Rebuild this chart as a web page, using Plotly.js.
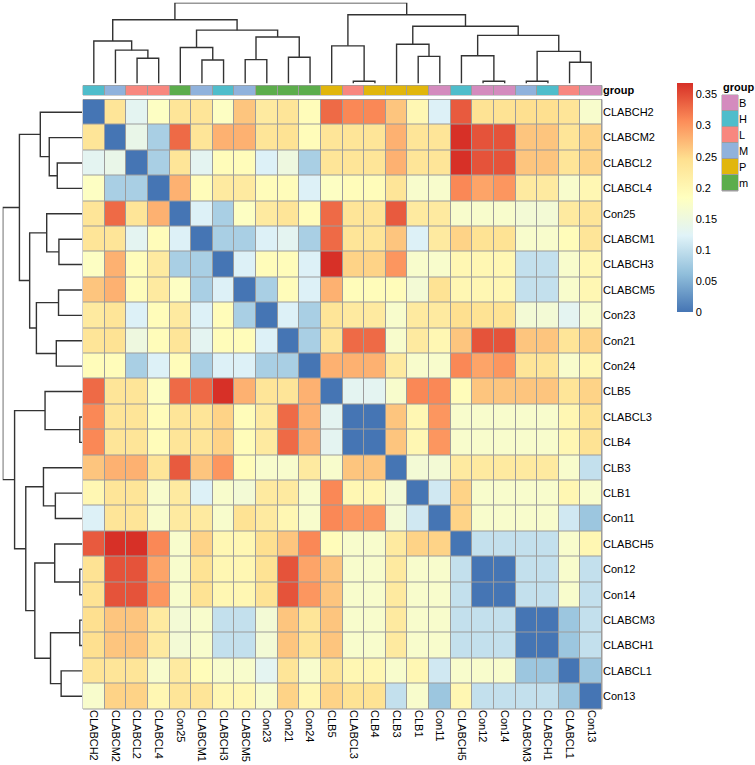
<!DOCTYPE html>
<html>
<head>
<meta charset="utf-8">
<script src="https://cdn.plot.ly/plotly-3.0.1.min.js"></script>
<style>
  html, body { margin: 0; padding: 0; background: #fff; }
  #chart { width: 755px; height: 765px; }
</style>
</head>
<body>
<div id="chart"></div>
<script>
// samples, in clustered order (rows and columns are the same)
const labels = ["CLABCH2", "CLABCM2", "CLABCL2", "CLABCL4", "Con25", "CLABCM1", "CLABCH3", "CLABCM5",
  "Con23", "Con21", "Con24", "CLB5", "CLABCL3", "CLB4", "CLB3", "CLB1", "Con11", "CLABCH5",
  "Con12", "Con14", "CLABCM3", "CLABCH1", "CLABCL1", "Con13"];

// group annotation per sample
const groups = ["H", "M", "L", "L", "m", "M", "H", "M", "m", "m", "m", "P", "L", "P", "P", "P",
  "B", "H", "B", "B", "M", "H", "L", "B"];
const groupNames = ["B", "H", "L", "M", "P", "m"];
const groupColors = ["#D48BBE", "#4FBDCB", "#F8877F", "#90B2DC", "#E1B60C", "#5CAD4C"];

// distance matrix, lower triangle (row i, columns 0..i-1), diagonal is 0
const lowerTri = [
  [],
  [0.235],
  [0.13, 0.14],
  [0.18, 0.08, 0.08],
  [0.235, 0.33, 0.235, 0.28],
  [0.235, 0.235, 0.13, 0.19, 0.12],
  [0.18, 0.28, 0.19, 0.225, 0.08, 0.08],
  [0.265, 0.28, 0.19, 0.225, 0.18, 0.08, 0.12],
  [0.225, 0.235, 0.12, 0.19, 0.225, 0.12, 0.19, 0.08],
  [0.235, 0.24, 0.15, 0.19, 0.235, 0.13, 0.19, 0.19, 0.12],
  [0.19, 0.19, 0.08, 0.12, 0.19, 0.08, 0.12, 0.12, 0.08, 0.08],
  [0.33, 0.235, 0.235, 0.18, 0.33, 0.33, 0.368, 0.28, 0.235, 0.235, 0.28],
  [0.31, 0.235, 0.235, 0.19, 0.235, 0.235, 0.255, 0.19, 0.225, 0.33, 0.28, 0.13],
  [0.31, 0.235, 0.235, 0.19, 0.235, 0.235, 0.255, 0.19, 0.225, 0.33, 0.28, 0.13, 0],
  [0.265, 0.28, 0.28, 0.235, 0.34, 0.265, 0.30, 0.19, 0.17, 0.17, 0.225, 0.17, 0.265, 0.265],
  [0.20, 0.235, 0.235, 0.17, 0.225, 0.12, 0.17, 0.16, 0.225, 0.225, 0.17, 0.31, 0.20, 0.20, 0.16],
  [0.12, 0.235, 0.235, 0.17, 0.225, 0.225, 0.17, 0.24, 0.225, 0.20, 0.17, 0.31, 0.30, 0.30, 0.16, 0.11],
  [0.34, 0.368, 0.368, 0.31, 0.17, 0.255, 0.20, 0.20, 0.245, 0.265, 0.31, 0.19, 0.17, 0.17, 0.225, 0.255, 0.255],
  [0.24, 0.345, 0.345, 0.29, 0.17, 0.24, 0.20, 0.20, 0.24, 0.345, 0.29, 0.265, 0.17, 0.17, 0.225, 0.17, 0.17, 0.10],
  [0.24, 0.345, 0.345, 0.30, 0.17, 0.24, 0.20, 0.20, 0.24, 0.345, 0.30, 0.265, 0.17, 0.17, 0.225, 0.17, 0.17, 0.10, 0],
  [0.245, 0.265, 0.265, 0.225, 0.16, 0.17, 0.10, 0.10, 0.16, 0.265, 0.235, 0.265, 0.17, 0.17, 0.225, 0.17, 0.17, 0.10, 0.10, 0.10],
  [0.245, 0.265, 0.265, 0.225, 0.16, 0.17, 0.10, 0.10, 0.16, 0.265, 0.235, 0.265, 0.17, 0.17, 0.225, 0.17, 0.17, 0.10, 0.10, 0.10, 0],
  [0.235, 0.235, 0.235, 0.17, 0.225, 0.19, 0.17, 0.17, 0.13, 0.235, 0.17, 0.235, 0.20, 0.20, 0.17, 0.20, 0.11, 0.17, 0.17, 0.17, 0.07, 0.07],
  [0.17, 0.255, 0.255, 0.20, 0.235, 0.235, 0.20, 0.20, 0.17, 0.255, 0.20, 0.255, 0.24, 0.24, 0.10, 0.17, 0.07, 0.20, 0.10, 0.10, 0.10, 0.10, 0.07]
];

// hclust-style merges: negative = leaf (1-based, display order), positive = earlier merge
const mergeA = [-13, -19, -21, -23, -6, -8, -3, -10, -16, -18, 3, -2, -5, -12, -15, -1, 6, 10, 13, 15, 16, 14, 21];
const mergeB = [-14, -20, -22, -24, -7, -9, -4, -11, -17, 2, 4, 7, 5, 1, 9, 12, 8, 11, 17, 18, 19, 20, 22];
const mergeHeight = [0.028, 0.028, 0.028, 0.263, 0.291, 0.296, 0.312, 0.324, 0.336, 0.344, 0.397, 0.413,
  0.445, 0.466, 0.486, 0.526, 0.575, 0.595, 0.660, 0.709, 0.789, 0.850, 1.0];

const colorTicks = [0, 0.05, 0.1, 0.15, 0.2, 0.25, 0.3, 0.35];

// ---- build matrix
const n = labels.length;
const idx = labels.map((_, i) => i);
const z = idx.map(i => idx.map(j => i === j ? 0 : (j < i ? lowerTri[i][j] : lowerTri[j][i])));
const zMax = Math.max(...z.flat());

// ---- dendrogram segments
const pos = [], hgt = [];
function node(k) {
  return k < 0 ? [-k - 1, 0] : [pos[k - 1], hgt[k - 1]];
}
const treeP = [], treeH = [];
mergeA.forEach((a, m) => {
  const [pa, ha] = node(a);
  const [pb, hb] = node(mergeB[m]);
  const h = mergeHeight[m];
  pos.push((pa + pb) / 2);
  hgt.push(h);
  treeP.push(pa, pa, pb, pb, null);
  treeH.push(ha, h, h, hb, null);
});
const rootH = Math.max(...mergeHeight);

const W = 755, H = 765;
const px = v => v / W;
const py = v => 1 - v / H;
const heatX = [px(83), px(602)];
const heatY = [py(709), py(99.5)];
const font = "Liberation Sans, Arial, Helvetica, sans-serif";
const fs = 11;
const grey = "#9c9c9c";
const lineCol = "#333333";

const rdylbu = ["#4575B4", "#91BFDB", "#E0F3F8", "#FFFFBF", "#FEE090", "#FC8D59", "#D73027"];
const heatScale = rdylbu.map((c, i) => [i / (rdylbu.length - 1), c]);

const groupIdx = groups.map(g => groupNames.indexOf(g));
const groupScale = [];
groupColors.forEach((c, k) => {
  groupScale.push([k / groupColors.length, c], [(k + 1) / groupColors.length, c]);
});

const traces = [
  {
    type: "heatmap", x: idx, y: idx, z: z,
    zmin: 0, zmax: zMax, colorscale: heatScale,
    xgap: 1, ygap: 1, hoverinfo: "skip",
    colorbar: {
      xref: "paper", yref: "paper",
      x: px(677), xanchor: "left", y: py(83.3), yanchor: "top",
      len: 229, lenmode: "pixels", thickness: 16,
      xpad: 0, ypad: 0, outlinewidth: 0, ticks: "",
      tickvals: colorTicks, ticktext: colorTicks.map(String),
      tickfont: { family: font, size: fs, color: "#000" }
    }
  },
  {
    type: "heatmap", x: idx, y: [0], z: [groupIdx],
    xaxis: "x", yaxis: "y3",
    zmin: -0.5, zmax: groupNames.length - 0.5, colorscale: groupScale,
    showscale: false, xgap: 1, hoverinfo: "skip"
  },
  {
    type: "scatter", mode: "lines", x: treeP, y: treeH, xaxis: "x", yaxis: "y2",
    line: { color: lineCol, width: 1.4 }, hoverinfo: "skip", showlegend: false
  },
  {
    type: "scatter", mode: "lines", x: treeH, y: treeP, xaxis: "x2", yaxis: "y",
    line: { color: lineCol, width: 1.4 }, hoverinfo: "skip", showlegend: false
  },
  {
    type: "heatmap", x: [0], y: groupNames.map((_, k) => k), z: groupNames.map((_, k) => [k]),
    xaxis: "x3", yaxis: "y4",
    zmin: -0.5, zmax: groupNames.length - 0.5, colorscale: groupScale,
    showscale: false, ygap: 1, hoverinfo: "skip"
  }
];

const hidden = { visible: false, showgrid: false, zeroline: false, fixedrange: true };
const layout = {
  width: W, height: H,
  margin: { l: 0, r: 0, t: 0, b: 0, autoexpand: false },
  paper_bgcolor: "#fff", plot_bgcolor: "#fff",
  font: { family: font, size: fs, color: "#000" },
  showlegend: false,
  xaxis: {
    domain: heatX, range: [-0.5, n - 0.5], anchor: "y",
    tickvals: idx, ticktext: labels, tickangle: 90, ticks: "",
    showgrid: false, zeroline: false, showline: false, automargin: false
  },
  yaxis: {
    domain: heatY, range: [n - 0.5, -0.5], anchor: "x", side: "right",
    tickvals: idx, ticktext: labels, ticks: "",
    showgrid: false, zeroline: false, showline: false, automargin: false
  },
  yaxis2: Object.assign({}, hidden, { domain: [py(83.5), py(2.7)], range: [0, rootH], anchor: "x" }),
  yaxis3: {
    domain: [py(95), py(85.5)], range: [-0.5, 0.5], anchor: "x", side: "right",
    tickvals: [0], ticktext: ["group"], ticks: "",
    tickfont: { weight: "bold" },
    showgrid: false, zeroline: false, showline: false, automargin: false
  },
  xaxis2: Object.assign({}, hidden, { domain: [px(2.7), px(82)], range: [rootH, 0], anchor: "y" }),
  xaxis3: Object.assign({}, hidden, { domain: [px(722), px(738)], range: [-0.5, 0.5], anchor: "y4" }),
  yaxis4: {
    domain: [py(191), py(95)], range: [groupNames.length - 0.5, -0.5], anchor: "x3", side: "right",
    tickvals: groupNames.map((_, k) => k), ticktext: groupNames, ticks: "",
    showgrid: false, zeroline: false, showline: false, automargin: false
  },
  shapes: [
    { type: "rect", xref: "paper", yref: "paper", layer: "below",
      x0: heatX[0], x1: heatX[1], y0: heatY[0], y1: heatY[1],
      fillcolor: grey, line: { color: grey, width: 1 } },
    { type: "rect", xref: "paper", yref: "paper", layer: "below",
      x0: heatX[0], x1: heatX[1], y0: py(95), y1: py(85.5),
      fillcolor: grey, line: { color: grey, width: 1 } },
    { type: "rect", xref: "paper", yref: "paper", layer: "below",
      x0: px(722), x1: px(738), y0: py(191), y1: py(95),
      fillcolor: grey, line: { color: grey, width: 1 } }
  ],
  annotations: [
    { text: "group", xref: "paper", yref: "paper", x: px(721), y: py(87), xanchor: "left", yanchor: "middle",
      showarrow: false, font: { size: fs, weight: "bold" } }
  ]
};

Plotly.newPlot("chart", traces, layout, { staticPlot: true });
</script>
</body>
</html>
